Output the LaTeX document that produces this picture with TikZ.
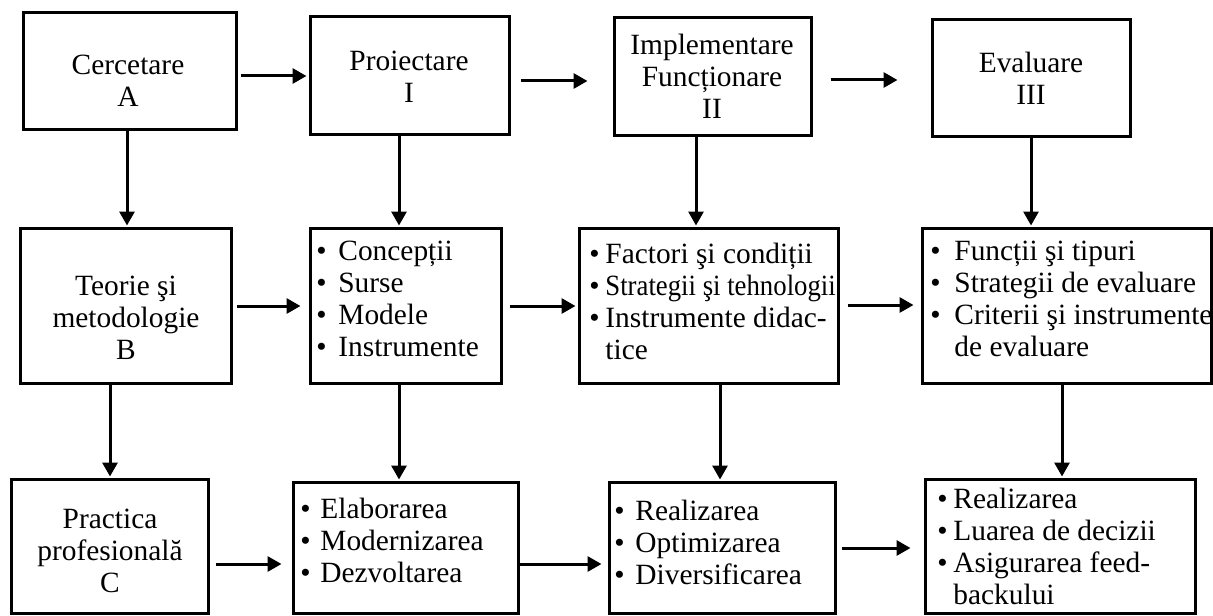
\documentclass[tikz,border=0pt]{standalone}
\usepackage{fontspec}
\usepackage{graphicx}
\setmainfont{Liberation Serif}
\usetikzlibrary{arrows.meta,fit}
\newcommand\bl[1]{\makebox[#1][l]{•}}
\begin{document}
\begin{tikzpicture}[x=0.5pt,y=-0.5pt,
  box/.style={draw, line width=1.5pt, inner sep=0pt},
  tx/.style={inner sep=0pt, font=\fontsize{14.7}{16}\selectfont},
  arr/.style={line width=1.5pt, -{Triangle[length=7pt,width=7.5pt]}}]
\useasboundingbox (0,0) rectangle (1213,615);
% row 1
\node[box, fit={(23,13) (236,129)}] (A) {};
\node[box, fit={(310,17) (509,134)}] (I) {};
\node[box, fit={(614,18) (811,135)}] (II) {};
\node[box, fit={(932,20) (1130,136)}] (III) {};
% row 2
\node[box, fit={(20,228) (231,383)}] (B) {};
\node[box, fit={(310,228) (501,383)}] (I2) {};
\node[box, fit={(579,228) (838,383)}] (II2) {};
\node[box, fit={(922,228) (1211,383)}] (III2) {};
% row 3
\node[box, fit={(11,479) (208,613)}] (C) {};
\node[box, fit={(293,482) (518,613)}] (I3) {};
\node[box, fit={(609,482) (835,613)}] (II3) {};
\node[box, fit={(925,479) (1195,613)}] (III3) {};
% texts
\node[tx, anchor=base] (tA) at (128,75) {\begin{tabular}[t]{@{}c@{}}Cercetare\\A\end{tabular}};
\node[tx, anchor=base] (tI) at (409,71) {\begin{tabular}[t]{@{}c@{}}Proiectare\\I\end{tabular}};
\node[tx, anchor=base] (tII) at (712,55) {\begin{tabular}[t]{@{}c@{}}Implementare\\Funcționare\\II\end{tabular}};
\node[tx, anchor=base] (tIII) at (1031,73) {\begin{tabular}[t]{@{}c@{}}Evaluare\\III\end{tabular}};
\node[tx, anchor=base] (tB) at (126,295) {\begin{tabular}[t]{@{}c@{}}Teorie şi\\metodologie\\B\end{tabular}};
\node[tx, anchor=base] (tC) at (110,528) {\begin{tabular}[t]{@{}c@{}}Practica\\profesională\\C\end{tabular}};
\node[tx, anchor=base west] (tI2) at (316,260) {\begin{tabular}[t]{@{}l@{}}\bl{11pt}Concepții\\\bl{11pt}Surse\\\bl{11pt}Modele\\\bl{11pt}Instrumente\end{tabular}};
\node[tx, anchor=base west] (tII2) at (589,263) {\begin{tabular}[t]{@{}l@{}}\bl{8pt}Factori şi condiții\\\bl{8pt}\scalebox{0.91}[1]{Strategii şi tehnologii}\\\bl{8pt}Instrumente didac-\\\hspace*{8pt}tice\end{tabular}};
\node[tx, anchor=base west] (tIII2) at (930,260) {\begin{tabular}[t]{@{}l@{}}\bl{12pt}Funcții şi tipuri\\\bl{12pt}Strategii de evaluare\\\bl{12pt}Criterii şi instrumente\\\hspace*{12pt}de evaluare\end{tabular}};
\node[tx, anchor=base west] (tI3) at (300,518) {\begin{tabular}[t]{@{}l@{}}\bl{10pt}Elaborarea\\\bl{10pt}Modernizarea\\\bl{10pt}Dezvoltarea\end{tabular}};
\node[tx, anchor=base west] (tII3) at (614,520) {\begin{tabular}[t]{@{}l@{}}\bl{10.5pt}Realizarea\\\bl{10.5pt}Optimizarea\\\bl{10.5pt}Diversificarea\end{tabular}};
\node[tx, anchor=base west] (tIII3) at (937,508) {\begin{tabular}[t]{@{}l@{}}\bl{8pt}Realizarea\\\bl{8pt}Luarea de decizii\\\bl{8pt}Asigurarea feed-\\\hspace*{8pt}backului\end{tabular}};
% horizontal arrows
\draw[arr, shorten <=1.5pt, shorten >=1pt] (A.east |- 0,76) -- (I.west |- 0,76);
\draw[arr, shorten <=5pt, shorten >=12.5pt] (I.east |- 0,81) -- (II.west |- 0,81);
\draw[arr, shorten <=9pt, shorten >=16.5pt] (II.east |- 0,80) -- (III.west |- 0,80);
\draw[arr, shorten <=2pt, shorten >=4pt] (B.east |- 0,306) -- (I2.west |- 0,306);
\draw[arr, shorten <=3.5pt, shorten >=1pt] (I2.east |- 0,306) -- (II2.west |- 0,306);
\draw[arr, shorten <=4pt, shorten >=3.5pt] (II2.east |- 0,305) -- (III2.west |- 0,305);
\draw[arr, shorten <=3pt, shorten >=5pt] (C.east |- 0,564) -- (I3.west |- 0,564);
\draw[arr, shorten >=3pt] (I3.east |- 0,564) -- (II3.west |- 0,564);
\draw[arr, shorten <=2.5pt, shorten >=6.5pt] (II3.east |- 0,548) -- (III3.west |- 0,548);
% vertical arrows
\draw[arr, shorten >=0.5pt] (A.south -| 127,0) -- (B.north -| 127,0);
\draw[arr, shorten >=0.5pt] (I.south -| 399,0) -- (I2.north -| 399,0);
\draw[arr, shorten >=0.5pt] (II.south -| 696,0) -- (II2.north -| 696,0);
\draw[arr, shorten >=0.5pt] (III.south -| 1031,0) -- (III2.north -| 1031,0);
\draw[arr, shorten >=0.5pt] (B.south -| 110,0) -- (C.north -| 110,0);
\draw[arr, shorten >=0.5pt] (I2.south -| 399,0) -- (I3.north -| 399,0);
\draw[arr, shorten >=0.5pt] (II2.south -| 720,0) -- (II3.north -| 720,0);
\draw[arr, shorten >=0.5pt] (III2.south -| 1062,0) -- (III3.north -| 1062,0);
\end{tikzpicture}
\end{document}
